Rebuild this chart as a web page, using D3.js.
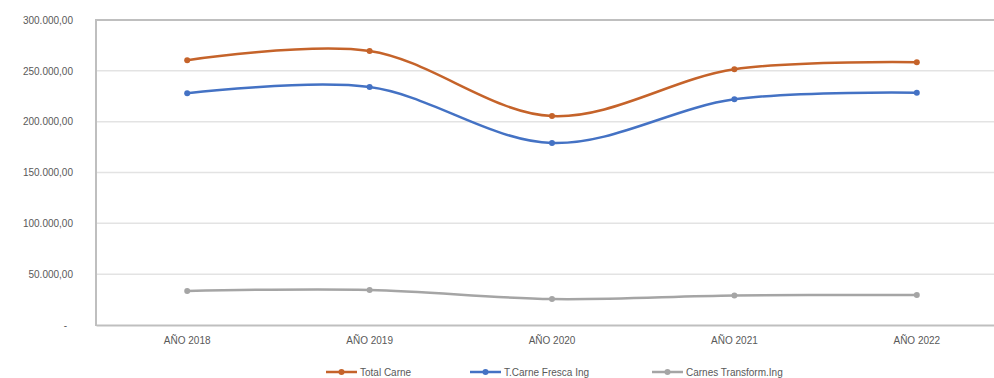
<!DOCTYPE html>
<html><head><meta charset="utf-8">
<script src="https://cdn.jsdelivr.net/npm/d3@7"></script>
<style>body{margin:0;background:#fff}svg{display:block}text{font-family:"Liberation Sans",Arial,sans-serif;fill:#595959}</style>
</head><body><svg id="c" width="994" height="378"></svg>
<script>
const categories = ["AÑO 2018","AÑO 2019","AÑO 2020","AÑO 2021","AÑO 2022"];
const totalCarne = [260500, 269500, 205500, 251500, 258500];
const carneFresca = [228000, 234000, 179000, 222000, 228500];
const carnesTransform = [33500, 34500, 25500, 29000, 29500];
const yTicks = [0, 50000, 100000, 150000, 200000, 250000, 300000];
const seriesNames = ["Total Carne","T.Carne Fresca Ing","Carnes Transform.Ing"];
const colors = ["#C5632A","#4472C4","#A5A5A5"];

(function(){
const svg = d3.select("#c");
const mLeft = 96, mTop = 20, mBottom = 325, mRight = 1008;
const x = d3.scaleBand().domain(categories).range([mLeft, mRight]);
const y = d3.scaleLinear().domain([0, 300000]).range([mBottom, mTop]);
const fmt = v => v === 0 ? "-" : d3.format(",.2f")(v).replace(/,/g,"#").replace(".",",").replace(/#/g,".");

svg.append("g").selectAll("line").data(yTicks.filter(d=>d>0)).join("line")
  .attr("x1", mLeft).attr("x2", mRight).attr("y1", d=>y(d)).attr("y2", d=>y(d))
  .attr("stroke", d=>d===300000?"#bfbfbf":"#e3e3e3").attr("stroke-width", d=>d===300000?2:1.5);

const yAxis = d3.axisLeft(y).tickValues(yTicks).tickFormat(fmt).tickSize(0).tickPadding(0);
const ga = svg.append("g").attr("transform", `translate(${mLeft-23},0)`).call(yAxis);
ga.select(".domain").remove();
ga.selectAll("text").style("font-size","10px").attr("fill","#6b6b6b").attr("dy","0.32em");
ga.selectAll(".tick").filter(d=>d===0).select("text").attr("dx","-6");
svg.append("line").attr("x1",mLeft).attr("x2",mLeft).attr("y1",mTop-1).attr("y2",mBottom+1).attr("stroke","#bfbfbf").attr("stroke-width",2);

const xAxis = d3.axisBottom(x).tickSize(0).tickPadding(12);
const gx = svg.append("g").attr("transform",`translate(0,${mBottom})`).call(xAxis);
gx.select(".domain").attr("stroke","#bfbfbf").attr("stroke-width",2);
gx.selectAll("text").style("font-size","10px").attr("fill","#6b6b6b");

const data = [totalCarne, carneFresca, carnesTransform];
const line = d3.line().x((d,i)=>x(categories[i])+x.bandwidth()/2).y(d=>y(d)).curve(d3.curveCatmullRom.alpha(0.5));
data.forEach((s,k)=>{
  svg.append("path").datum(s).attr("d",line).attr("fill","none").attr("stroke",colors[k]).attr("stroke-width",2.5);
  svg.append("g").selectAll("circle").data(s).join("circle")
    .attr("cx",(d,i)=>x(categories[i])+x.bandwidth()/2).attr("cy",d=>y(d)).attr("r",3).attr("fill",colors[k]);
});

const legX = [326, 470, 652];
seriesNames.forEach((n,k)=>{
  const g = svg.append("g").attr("transform",`translate(${legX[k]},372)`);
  g.append("line").attr("x1",0).attr("x2",31).attr("stroke",colors[k]).attr("stroke-width",2.5);
  g.append("circle").attr("cx",15.5).attr("r",3).attr("fill",colors[k]);
  g.append("text").attr("x",34).attr("dy","0.35em").style("font-size","10px").attr("fill","#6b6b6b").text(n);
});
})();
</script></body></html>
